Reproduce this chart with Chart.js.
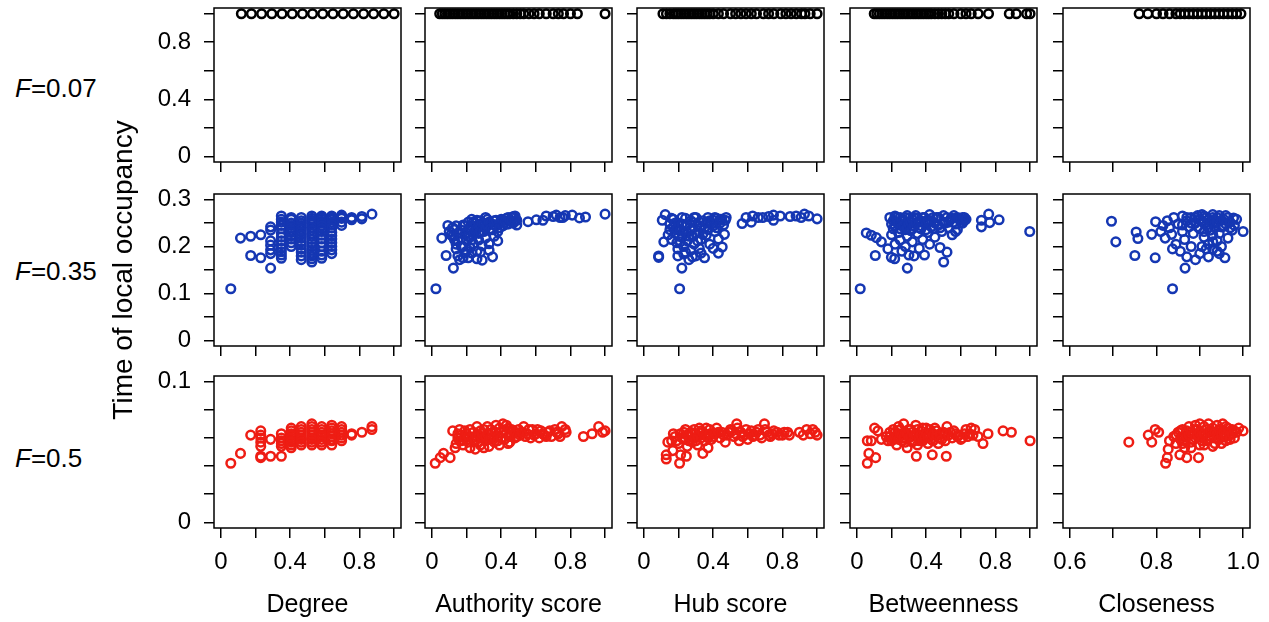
<!DOCTYPE html>
<html>
<head>
<meta charset="utf-8">
<script src="https://cdn.jsdelivr.net/npm/chart.js@4.4.1/dist/chart.umd.min.js"></script>
<style>
  body { margin: 0; background: #fff; width: 1269px; height: 622px; position: relative; overflow: hidden;
         font-family: "Liberation Sans", Arial, sans-serif; }
  canvas { position: absolute; }
  .flabel { position: absolute; left: 15px; font-size: 26px; line-height: 30px; color: #000; white-space: nowrap; }
</style>
</head>
<body>
<div class="flabel" style="top:73px"><i>F</i>=0.07</div>
<div class="flabel" style="top:256px"><i>F</i>=0.35</div>
<div class="flabel" style="top:443px"><i>F</i>=0.5</div>
<script>
// ---- data: [x, time of local occupancy] per panel ----
const f07Degree = [[0.118,1],[0.176,1],[0.235,1],[0.294,1],[0.353,1],[0.412,1],[0.471,1],[0.529,1],
  [0.588,1],[0.647,1],[0.706,1],[0.765,1],[0.824,1],[0.882,1],[0.941,1],[1.0,1]];
const f07Authority = [[0.045,1],[0.06,1],[0.075,1],[0.09,1],[0.105,1],[0.12,1],[0.135,1],[0.15,1],[0.165,1],
  [0.18,1],[0.195,1],[0.21,1],[0.225,1],[0.24,1],[0.255,1],[0.27,1],[0.285,1],[0.3,1],[0.315,1],[0.33,1],
  [0.345,1],[0.36,1],[0.375,1],[0.39,1],[0.405,1],[0.42,1],[0.435,1],[0.45,1],[0.47,1],[0.49,1],[0.51,1],
  [0.53,1],[0.56,1],[0.59,1],[0.62,1],[0.66,1],[0.7,1],[0.73,1],[0.76,1],[0.8,1],[0.84,1],[1.0,1]];
const f07Hub = [[0.11,1],[0.13,1],[0.15,1],[0.17,1],[0.185,1],[0.2,1],[0.215,1],[0.23,1],[0.245,1],[0.26,1],
  [0.275,1],[0.29,1],[0.305,1],[0.32,1],[0.335,1],[0.35,1],[0.365,1],[0.38,1],[0.40,1],[0.43,1],[0.46,1],
  [0.5,1],[0.53,1],[0.56,1],[0.59,1],[0.62,1],[0.65,1],[0.69,1],[0.72,1],[0.75,1],[0.79,1],[0.82,1],
  [0.85,1],[0.88,1],[0.91,1],[0.93,1],[0.96,1],[1.0,1]];
const f07Betweenness = [[0.10,1],[0.115,1],[0.13,1],[0.145,1],[0.16,1],[0.175,1],[0.19,1],[0.205,1],[0.22,1],
  [0.235,1],[0.25,1],[0.265,1],[0.28,1],[0.295,1],[0.31,1],[0.325,1],[0.34,1],[0.355,1],[0.37,1],[0.385,1],
  [0.4,1],[0.415,1],[0.43,1],[0.45,1],[0.47,1],[0.49,1],[0.51,1],[0.53,1],[0.56,1],[0.6,1],[0.63,1],
  [0.66,1],[0.7,1],[0.76,1],[0.88,1],[0.92,1],[0.98,1],[1.0,1]];
const f07Closeness = [[0.76,1],[0.78,1],[0.8,1],[0.815,1],[0.83,1],[0.845,1],[0.855,1],[0.865,1],[0.875,1],
  [0.885,1],[0.895,1],[0.905,1],[0.915,1],[0.925,1],[0.935,1],[0.945,1],[0.955,1],[0.965,1],[0.975,1],
  [0.985,1],[0.995,1]];

const f35Degree = [[0.057,0.110],[0.113,0.218],[0.172,0.222],[0.172,0.181],[0.23,0.225],[0.23,0.176],
  [0.287,0.242],[0.287,0.235],[0.287,0.212],[0.287,0.203],[0.287,0.193],[0.287,0.185],[0.287,0.154],
  [0.349,0.265],[0.349,0.258],[0.349,0.252],[0.349,0.245],[0.349,0.238],[0.349,0.228],[0.349,0.220],[0.349,0.212],
  [0.349,0.204],[0.349,0.196],[0.349,0.189],[0.349,0.182],[0.349,0.175],
  [0.406,0.262],[0.406,0.258],[0.406,0.250],[0.406,0.245],[0.406,0.240],[0.406,0.235],[0.406,0.230],[0.406,0.223],
  [0.406,0.216],[0.406,0.208],[0.406,0.200],
  [0.464,0.262],[0.464,0.255],[0.464,0.250],[0.464,0.245],[0.464,0.241],[0.464,0.237],[0.464,0.231],[0.464,0.225],
  [0.464,0.218],[0.464,0.210],[0.464,0.203],[0.464,0.195],[0.464,0.188],[0.464,0.180],[0.464,0.172],
  [0.525,0.265],[0.525,0.260],[0.525,0.256],[0.525,0.252],[0.525,0.248],[0.525,0.241],[0.525,0.235],[0.525,0.228],
  [0.525,0.222],[0.525,0.215],[0.525,0.208],[0.525,0.200],[0.525,0.192],[0.525,0.186],[0.525,0.180],[0.525,0.174],[0.525,0.167],
  [0.582,0.265],[0.582,0.262],[0.582,0.258],[0.582,0.254],[0.582,0.250],[0.582,0.244],[0.582,0.238],[0.582,0.232],
  [0.582,0.224],[0.582,0.216],[0.582,0.208],[0.582,0.200],[0.582,0.190],[0.582,0.182],[0.582,0.175],
  [0.64,0.265],[0.64,0.261],[0.64,0.257],[0.64,0.252],[0.64,0.247],[0.64,0.240],[0.64,0.230],[0.64,0.223],
  [0.64,0.216],[0.64,0.208],[0.64,0.200],[0.64,0.193],[0.64,0.185],
  [0.697,0.267],[0.697,0.263],[0.697,0.260],[0.697,0.252],[0.697,0.245],[0.755,0.262],[0.755,0.260],[0.755,0.257],
  [0.814,0.264],[0.814,0.259],[0.872,0.269]];
const f35Authority = [[0.023,0.110],[0.057,0.218],[0.082,0.181],[0.124,0.154],[0.092,0.245],
  [0.10,0.232],[0.11,0.225],[0.12,0.240],[0.12,0.222],[0.13,0.215],[0.13,0.236],[0.14,0.205],[0.14,0.195],
  [0.14,0.244],[0.15,0.228],[0.15,0.180],[0.15,0.212],[0.16,0.172],[0.16,0.230],[0.17,0.235],[0.17,0.218],
  [0.17,0.200],[0.18,0.200],[0.18,0.176],[0.18,0.246],[0.19,0.245],[0.19,0.226],[0.19,0.186],[0.20,0.212],
  [0.20,0.190],[0.21,0.252],[0.21,0.236],[0.21,0.222],[0.21,0.176],[0.22,0.220],[0.22,0.198],[0.22,0.240],
  [0.23,0.258],[0.23,0.244],[0.23,0.214],[0.23,0.186],[0.24,0.230],[0.24,0.206],[0.24,0.252],[0.25,0.250],
  [0.25,0.236],[0.26,0.238],[0.26,0.190],[0.26,0.174],[0.26,0.256],[0.27,0.228],[0.27,0.214],[0.27,0.244],
  [0.28,0.255],[0.28,0.244],[0.28,0.232],[0.28,0.188],[0.29,0.202],[0.29,0.171],[0.29,0.250],[0.30,0.250],
  [0.30,0.232],[0.31,0.218],[0.31,0.240],[0.31,0.262],[0.32,0.258],[0.32,0.244],[0.33,0.206],[0.33,0.252],
  [0.33,0.192],[0.34,0.250],[0.34,0.238],[0.35,0.236],[0.35,0.178],[0.36,0.255],[0.36,0.246],[0.36,0.222],
  [0.37,0.244],[0.37,0.256],[0.38,0.212],[0.38,0.232],[0.39,0.250],[0.39,0.240],[0.40,0.258],[0.41,0.244],
  [0.41,0.256],[0.42,0.252],[0.43,0.260],[0.43,0.248],[0.44,0.248],[0.44,0.262],[0.45,0.256],[0.46,0.262],
  [0.46,0.254],[0.47,0.250],[0.47,0.264],[0.48,0.265],[0.48,0.255],[0.49,0.256],[0.49,0.246],
  [0.555,0.253],[0.603,0.257],[0.641,0.256],[0.66,0.265],[0.70,0.264],[0.718,0.267],[0.74,0.262],[0.756,0.262],
  [0.77,0.266],[0.81,0.267],[0.852,0.261],[0.887,0.263],[1.0,0.269]];
const f35Hub = [[0.085,0.180],[0.085,0.177],[0.206,0.110],[0.219,0.154],[0.115,0.210],[0.106,0.256],[0.123,0.268],
  [0.196,0.195],[0.196,0.180],[0.14,0.225],[0.15,0.236],[0.15,0.248],[0.16,0.215],[0.16,0.260],[0.17,0.258],
  [0.17,0.242],[0.18,0.228],[0.18,0.250],[0.19,0.208],[0.19,0.236],[0.20,0.250],[0.20,0.222],[0.21,0.236],
  [0.21,0.210],[0.22,0.262],[0.22,0.220],[0.22,0.248],[0.23,0.200],[0.23,0.184],[0.23,0.232],[0.24,0.244],
  [0.24,0.260],[0.24,0.188],[0.25,0.230],[0.25,0.212],[0.25,0.246],[0.26,0.172],[0.26,0.222],[0.27,0.255],
  [0.27,0.192],[0.27,0.236],[0.28,0.238],[0.28,0.222],[0.28,0.252],[0.28,0.178],[0.29,0.205],[0.29,0.262],
  [0.30,0.262],[0.30,0.180],[0.30,0.228],[0.31,0.246],[0.31,0.212],[0.32,0.230],[0.32,0.196],[0.32,0.252],
  [0.33,0.215],[0.33,0.240],[0.33,0.186],[0.34,0.255],[0.34,0.226],[0.35,0.240],[0.35,0.176],[0.36,0.224],
  [0.36,0.250],[0.37,0.262],[0.37,0.236],[0.38,0.205],[0.38,0.255],[0.39,0.248],[0.40,0.256],[0.40,0.244],
  [0.40,0.196],[0.41,0.232],[0.41,0.262],[0.42,0.260],[0.42,0.240],[0.43,0.216],[0.43,0.186],[0.44,0.250],
  [0.44,0.258],[0.45,0.258],[0.452,0.199],[0.46,0.246],[0.465,0.226],[0.47,0.256],[0.475,0.262],
  [0.567,0.249],[0.59,0.262],[0.62,0.252],[0.628,0.265],[0.66,0.262],[0.686,0.262],[0.72,0.264],[0.748,0.267],
  [0.748,0.256],[0.787,0.265],[0.844,0.264],[0.879,0.265],[0.908,0.262],[0.927,0.269],[0.952,0.265],[1.0,0.259]];
const f35Betweenness = [[0.019,0.110],[0.054,0.229],[0.083,0.224],[0.112,0.219],[0.141,0.210],[0.106,0.181],
  [0.179,0.195],[0.199,0.177],[0.218,0.174],[0.291,0.154],[0.501,0.167],
  [0.19,0.262],[0.20,0.248],[0.20,0.225],[0.21,0.238],[0.21,0.255],[0.22,0.265],[0.22,0.205],[0.22,0.244],
  [0.23,0.252],[0.23,0.262],[0.24,0.230],[0.24,0.250],[0.25,0.262],[0.25,0.214],[0.25,0.238],[0.26,0.244],
  [0.26,0.190],[0.26,0.258],[0.27,0.256],[0.27,0.244],[0.28,0.236],[0.28,0.200],[0.28,0.262],[0.29,0.266],
  [0.29,0.222],[0.29,0.240],[0.30,0.248],[0.30,0.182],[0.30,0.260],[0.31,0.234],[0.31,0.252],[0.32,0.258],
  [0.32,0.210],[0.32,0.238],[0.33,0.244],[0.33,0.180],[0.33,0.262],[0.34,0.266],[0.34,0.250],[0.35,0.228],
  [0.35,0.260],[0.36,0.252],[0.36,0.196],[0.36,0.240],[0.37,0.238],[0.37,0.255],[0.38,0.262],[0.38,0.215],
  [0.39,0.182],[0.39,0.262],[0.40,0.248],[0.40,0.236],[0.41,0.230],[0.41,0.256],[0.42,0.268],[0.42,0.205],
  [0.43,0.255],[0.43,0.242],[0.44,0.238],[0.44,0.262],[0.45,0.220],[0.45,0.250],[0.46,0.262],[0.47,0.245],
  [0.47,0.262],[0.48,0.198],[0.48,0.240],[0.49,0.232],[0.50,0.266],[0.50,0.252],[0.51,0.250],[0.52,0.188],
  [0.52,0.262],[0.53,0.240],[0.53,0.252],[0.54,0.258],[0.55,0.225],[0.55,0.260],[0.56,0.266],[0.57,0.232],
  [0.57,0.248],[0.58,0.236],[0.58,0.262],[0.59,0.260],[0.60,0.252],[0.60,0.258],[0.61,0.262],[0.61,0.250],
  [0.62,0.256],[0.62,0.262],[0.63,0.258],[0.719,0.242],[0.719,0.256],[0.761,0.269],[0.767,0.251],[0.821,0.257],[0.998,0.232]];
const f35Closeness = [[0.696,0.254],[0.706,0.210],[0.750,0.181],[0.753,0.231],[0.757,0.217],[0.789,0.226],
  [0.797,0.176],[0.798,0.253],[0.837,0.110],[0.866,0.154],[0.837,0.195],[0.958,0.176],[1.0,0.232],[0.978,0.261],
  [0.81,0.232],[0.815,0.245],[0.82,0.218],[0.825,0.255],[0.83,0.240],[0.835,0.226],[0.84,0.262],[0.845,0.205],
  [0.85,0.248],[0.855,0.190],[0.86,0.265],[0.86,0.232],[0.86,0.246],[0.865,0.215],[0.87,0.255],[0.87,0.178],
  [0.87,0.262],[0.875,0.242],[0.88,0.262],[0.88,0.200],[0.88,0.250],[0.885,0.228],[0.89,0.250],[0.89,0.172],
  [0.89,0.262],[0.895,0.266],[0.895,0.242],[0.90,0.238],[0.90,0.185],[0.90,0.258],[0.905,0.255],[0.905,0.268],
  [0.905,0.200],[0.91,0.220],[0.91,0.265],[0.91,0.250],[0.91,0.232],[0.915,0.245],[0.915,0.195],[0.915,0.262],
  [0.92,0.258],[0.92,0.178],[0.92,0.240],[0.92,0.205],[0.925,0.235],[0.925,0.252],[0.93,0.268],[0.93,0.210],
  [0.93,0.262],[0.93,0.225],[0.93,0.195],[0.935,0.250],[0.935,0.240],[0.94,0.190],[0.94,0.262],[0.94,0.252],
  [0.94,0.212],[0.945,0.228],[0.945,0.266],[0.945,0.185],[0.95,0.256],[0.95,0.200],[0.95,0.242],[0.955,0.243],
  [0.955,0.258],[0.96,0.266],[0.96,0.248],[0.965,0.218],[0.965,0.262],[0.97,0.252],[0.97,0.240],[0.975,0.235],
  [0.98,0.245],[0.985,0.258]];

const f50Degree = [[0.057,0.042],[0.113,0.049],[0.172,0.062],[0.23,0.065],[0.23,0.062],[0.23,0.060],[0.23,0.057],
  [0.23,0.054],[0.23,0.047],[0.23,0.046],[0.287,0.059],[0.287,0.047],[0.349,0.063],[0.349,0.060],[0.349,0.058],
  [0.349,0.056],[0.349,0.054],[0.349,0.047],
  [0.406,0.067],[0.406,0.065],[0.406,0.063],[0.406,0.062],[0.406,0.060],[0.406,0.058],[0.406,0.057],[0.406,0.055],[0.406,0.053],
  [0.464,0.068],[0.464,0.066],[0.464,0.064],[0.464,0.062],[0.464,0.060],[0.464,0.059],[0.464,0.057],[0.464,0.055],
  [0.525,0.070],[0.525,0.068],[0.525,0.066],[0.525,0.064],[0.525,0.062],[0.525,0.060],[0.525,0.059],[0.525,0.057],[0.525,0.055],
  [0.582,0.068],[0.582,0.066],[0.582,0.064],[0.582,0.062],[0.582,0.061],[0.582,0.059],[0.582,0.057],[0.582,0.055],
  [0.64,0.069],[0.64,0.067],[0.64,0.065],[0.64,0.063],[0.64,0.061],[0.64,0.059],[0.64,0.058],[0.64,0.055],
  [0.697,0.068],[0.697,0.066],[0.697,0.064],[0.697,0.062],[0.697,0.060],[0.697,0.058],[0.755,0.063],[0.755,0.062],
  [0.814,0.064],[0.872,0.068],[0.872,0.066]];
const f50Authority = [[0.019,0.042],[0.048,0.046],[0.067,0.049],[0.105,0.046],[0.12,0.065],[0.134,0.053],
  [0.14,0.056],[0.15,0.060],[0.15,0.063],[0.16,0.058],[0.16,0.066],[0.17,0.062],[0.17,0.058],[0.18,0.055],
  [0.19,0.060],[0.19,0.065],[0.20,0.063],[0.21,0.057],[0.21,0.061],[0.22,0.053],[0.22,0.066],[0.23,0.060],
  [0.24,0.064],[0.24,0.058],[0.25,0.058],[0.25,0.052],[0.26,0.068],[0.26,0.061],[0.27,0.062],[0.27,0.057],
  [0.28,0.055],[0.28,0.065],[0.29,0.060],[0.29,0.063],[0.30,0.066],[0.30,0.053],[0.31,0.058],[0.31,0.061],
  [0.32,0.063],[0.32,0.068],[0.33,0.054],[0.33,0.059],[0.34,0.060],[0.34,0.066],[0.35,0.064],[0.36,0.057],
  [0.36,0.061],[0.37,0.069],[0.37,0.064],[0.38,0.061],[0.38,0.058],[0.39,0.055],[0.39,0.067],[0.40,0.064],
  [0.40,0.060],[0.41,0.070],[0.42,0.059],[0.42,0.065],[0.43,0.063],[0.43,0.069],[0.44,0.067],[0.44,0.056],
  [0.45,0.057],[0.45,0.061],[0.46,0.062],[0.46,0.066],[0.47,0.065],[0.48,0.060],[0.48,0.064],[0.49,0.061],
  [0.50,0.066],[0.51,0.062],[0.52,0.064],[0.53,0.068],[0.54,0.061],[0.55,0.063],[0.56,0.066],[0.57,0.060],
  [0.58,0.066],[0.59,0.062],[0.60,0.063],[0.61,0.066],[0.62,0.060],[0.63,0.065],[0.64,0.063],[0.65,0.062],
  [0.66,0.061],[0.67,0.064],[0.68,0.065],[0.69,0.061],[0.71,0.066],[0.72,0.064],[0.73,0.063],[0.74,0.061],
  [0.75,0.068],[0.77,0.066],[0.775,0.064],[0.875,0.061],[0.925,0.063],[0.963,0.068],[0.986,0.064],[1.0,0.065]];
const f50Hub = [[0.129,0.048],[0.129,0.045],[0.138,0.057],[0.206,0.042],[0.212,0.048],[0.245,0.047],[0.167,0.051],
  [0.34,0.049],[0.16,0.058],[0.17,0.063],[0.18,0.061],[0.19,0.058],[0.20,0.056],[0.21,0.063],[0.22,0.060],
  [0.23,0.059],[0.23,0.064],[0.24,0.066],[0.25,0.054],[0.25,0.062],[0.26,0.061],[0.26,0.058],[0.27,0.064],
  [0.28,0.057],[0.28,0.063],[0.29,0.060],[0.29,0.066],[0.30,0.063],[0.30,0.058],[0.31,0.055],[0.31,0.061],
  [0.32,0.067],[0.33,0.060],[0.33,0.065],[0.34,0.064],[0.35,0.058],[0.35,0.062],[0.36,0.062],[0.36,0.067],
  [0.37,0.053],[0.37,0.060],[0.38,0.066],[0.38,0.063],[0.39,0.059],[0.40,0.061],[0.41,0.063],[0.42,0.067],
  [0.43,0.064],[0.44,0.060],[0.45,0.064],[0.46,0.062],[0.47,0.057],[0.48,0.062],[0.49,0.064],[0.50,0.066],
  [0.51,0.065],[0.52,0.061],[0.53,0.063],[0.536,0.070],[0.54,0.067],[0.55,0.058],[0.56,0.064],[0.57,0.061],
  [0.58,0.062],[0.59,0.066],[0.60,0.059],[0.61,0.063],[0.62,0.065],[0.63,0.061],[0.64,0.062],[0.65,0.064],
  [0.66,0.066],[0.67,0.062],[0.68,0.060],[0.696,0.070],[0.70,0.066],[0.71,0.064],[0.72,0.062],[0.73,0.061],
  [0.74,0.063],[0.75,0.065],[0.77,0.064],[0.78,0.062],[0.80,0.062],[0.81,0.064],[0.83,0.064],[0.84,0.062],
  [0.898,0.064],[0.92,0.062],[0.94,0.066],[0.96,0.063],[0.975,0.066],[0.99,0.064],[1.0,0.062]];
const f50Betweenness = [[0.06,0.042],[0.069,0.049],[0.108,0.046],[0.06,0.058],[0.083,0.058],[0.102,0.067],
  [0.121,0.065],[0.141,0.059],[0.343,0.047],[0.435,0.048],[0.516,0.047],[0.728,0.056],[0.757,0.063],
  [0.844,0.065],[0.892,0.064],[1.0,0.058],[0.17,0.061],[0.18,0.058],[0.19,0.064],[0.19,0.061],[0.20,0.058],
  [0.21,0.066],[0.21,0.059],[0.22,0.061],[0.22,0.064],[0.23,0.055],[0.23,0.062],[0.24,0.068],[0.24,0.059],
  [0.25,0.063],[0.25,0.066],[0.26,0.058],[0.26,0.062],[0.27,0.070],[0.27,0.060],[0.28,0.064],[0.28,0.057],
  [0.29,0.053],[0.29,0.063],[0.30,0.060],[0.30,0.066],[0.31,0.066],[0.31,0.061],[0.32,0.057],[0.32,0.064],
  [0.33,0.062],[0.33,0.058],[0.34,0.069],[0.34,0.062],[0.35,0.055],[0.35,0.066],[0.36,0.060],[0.36,0.058],
  [0.37,0.065],[0.37,0.062],[0.38,0.058],[0.38,0.067],[0.39,0.063],[0.39,0.060],[0.40,0.067],[0.40,0.063],
  [0.41,0.056],[0.41,0.061],[0.42,0.061],[0.42,0.066],[0.43,0.064],[0.43,0.059],[0.44,0.058],[0.44,0.062],
  [0.45,0.067],[0.46,0.062],[0.46,0.065],[0.47,0.056],[0.48,0.060],[0.48,0.063],[0.49,0.059],[0.50,0.064],
  [0.51,0.058],[0.51,0.062],[0.52,0.068],[0.53,0.062],[0.54,0.064],[0.55,0.060],[0.56,0.065],[0.57,0.063],
  [0.58,0.061],[0.59,0.062],[0.60,0.059],[0.61,0.060],[0.62,0.063],[0.63,0.066],[0.64,0.061],[0.65,0.063],
  [0.66,0.067],[0.67,0.062],[0.68,0.066],[0.70,0.061]];
const f50Closeness = [[0.736,0.057],[0.781,0.062],[0.789,0.057],[0.797,0.066],[0.805,0.064],[0.827,0.052],
  [0.825,0.046],[0.821,0.042],[0.854,0.048],[0.87,0.046],[0.897,0.046],[0.9,0.070],[0.953,0.070],[1.0,0.065],
  [0.83,0.058],[0.84,0.061],[0.845,0.056],[0.845,0.062],[0.85,0.064],[0.855,0.059],[0.855,0.065],[0.86,0.066],
  [0.86,0.061],[0.86,0.056],[0.865,0.053],[0.865,0.058],[0.87,0.061],[0.87,0.065],[0.875,0.068],[0.875,0.062],
  [0.88,0.057],[0.88,0.064],[0.88,0.053],[0.885,0.063],[0.885,0.059],[0.89,0.060],[0.89,0.066],[0.89,0.069],
  [0.895,0.066],[0.895,0.062],[0.90,0.055],[0.90,0.064],[0.905,0.062],[0.905,0.058],[0.91,0.068],[0.91,0.063],
  [0.91,0.055],[0.915,0.058],[0.915,0.066],[0.92,0.064],[0.92,0.059],[0.92,0.070],[0.925,0.061],[0.925,0.065],
  [0.93,0.067],[0.93,0.062],[0.93,0.054],[0.935,0.056],[0.935,0.064],[0.94,0.063],[0.94,0.060],[0.94,0.069],
  [0.945,0.059],[0.945,0.066],[0.95,0.066],[0.95,0.062],[0.95,0.056],[0.955,0.061],[0.955,0.064],[0.96,0.058],
  [0.96,0.061],[0.96,0.068],[0.965,0.064],[0.965,0.067],[0.97,0.062],[0.97,0.059],[0.975,0.066],[0.975,0.063],
  [0.98,0.060],[0.98,0.065],[0.985,0.064],[0.99,0.067]];

// ---- axis ticks and labels ----
const xTitles = ['Degree', 'Authority score', 'Hub score', 'Betweenness', 'Closeness'];
const xTicksUnit = [0, 0.2, 0.4, 0.6, 0.8, 1.0];
const xLabelsUnit = ['0', '0.4', '0.8'];
const xTicksCloseness = [0.6, 0.7, 0.8, 0.9, 1.0];
const xLabelsCloseness = ['0.6', '0.8', '1.0'];
const yTicksF07 = [0, 0.2, 0.4, 0.6, 0.8, 1.0];
const yLabelsF07 = ['0', '0.4', '0.8'];
const yTicksF35 = [0, 0.05, 0.1, 0.15, 0.2, 0.25, 0.3];
const yLabelsF35 = ['0', '0.1', '0.2', '0.3'];
const yTicksF50 = [0, 0.02, 0.04, 0.06, 0.08, 0.1];
const yLabelsF50 = ['0', '0.1'];

// ---- layout ----
const panelLefts = [214, 425, 637, 850, 1063];
const panelWidth = 187;
const rowTops = [8, 194, 376];
const rowHeights = [154, 152, 152];
const pad = { left: 24, top: 30, right: 30 };

const rows = [
  { data: [f07Degree, f07Authority, f07Hub, f07Betweenness, f07Closeness], color: '#000000',
    min: -0.04, max: 1.04, ticks: yTicksF07, labels: yLabelsF07 },
  { data: [f35Degree, f35Authority, f35Hub, f35Betweenness, f35Closeness], color: '#1537b3',
    min: -0.012, max: 0.312, ticks: yTicksF35, labels: yLabelsF35 },
  { data: [f50Degree, f50Authority, f50Hub, f50Betweenness, f50Closeness], color: '#ee1d14',
    min: -0.004, max: 0.104, ticks: yTicksF50, labels: yLabelsF50 }
];
const cols = xTitles.map((t, i) => i < 4
  ? { title: t, min: -0.04, max: 1.04, ticks: xTicksUnit, labels: xLabelsUnit }
  : { title: t, min: 0.584, max: 1.016, ticks: xTicksCloseness, labels: xLabelsCloseness });

const boxPlugin = {
  id: 'box',
  afterDraw(chart) {
    const a = chart.chartArea, ctx = chart.ctx;
    ctx.save();
    ctx.strokeStyle = '#000';
    ctx.lineWidth = 1.5;
    ctx.strokeRect(a.left, a.top, a.right - a.left, a.bottom - a.top);
    ctx.restore();
  }
};

function pickLabel(labels) {
  return (v) => {
    const hit = labels.find(l => Math.abs(parseFloat(l) - v) < 1e-9);
    return hit === undefined ? '' : hit;
  };
}

const font = '"Liberation Sans", Arial, sans-serif';

rows.forEach((row, r) => {
  cols.forEach((col, c) => {
    const hasYTitle = c === 0 && r === 1;
    const extra = hasYTitle ? 90 : 0;          // room for the long rotated y title
    const leftW = c === 0 ? 114 : 12;
    const bottomH = r === 2 ? 94 : 14;
    const topPad = pad.top + extra;
    const bottomPad = (r === 2 ? 0 : 20) + extra;
    const cv = document.createElement('canvas');
    const w = pad.left + leftW + panelWidth + pad.right;
    const h = topPad + rowHeights[r] + bottomH + bottomPad;
    cv.width = w; cv.height = h;
    cv.style.left = (panelLefts[c] - leftW - pad.left) + 'px';
    cv.style.top = (rowTops[r] - topPad) + 'px';
    cv.style.width = w + 'px'; cv.style.height = h + 'px';
    document.body.appendChild(cv);

    const gridOpts = { display: true, drawOnChartArea: false, drawTicks: true, tickLength: 10,
                       color: '#000', tickColor: '#000', lineWidth: 1.5, tickWidth: 1.5 };
    new Chart(cv.getContext('2d'), {
      type: 'scatter',
      data: { datasets: [{
        data: row.data[c].map(p => ({ x: p[0], y: p[1] })),
        borderColor: row.color,
        backgroundColor: 'rgba(0,0,0,0)',
        pointRadius: 4.3,
        pointBorderWidth: 2.5,
        pointHoverRadius: 4.3
      }] },
      options: {
        responsive: false,
        animation: false,
        events: [],
        layout: { padding: { left: pad.left, top: topPad, right: pad.right, bottom: bottomPad } },
        plugins: { legend: { display: false }, tooltip: { enabled: false } },
        scales: {
          x: {
            type: 'linear', min: col.min, max: col.max,
            afterBuildTicks: s => { s.ticks = col.ticks.map(v => ({ value: v })); },
            afterFit: s => { s.height = bottomH; },
            grid: gridOpts,
            border: { display: false },
            ticks: { display: r === 2, autoSkip: false, maxRotation: 0, padding: 10, color: '#000',
                     font: { family: font, size: 24 }, callback: pickLabel(col.labels) },
            title: { display: r === 2, text: col.title, color: '#000', padding: { top: 0, bottom: 2 },
                     font: { family: font, size: 25 } }
          },
          y: {
            type: 'linear', min: row.min, max: row.max,
            afterBuildTicks: s => { s.ticks = row.ticks.map(v => ({ value: v })); },
            afterFit: s => { s.width = leftW; },
            grid: gridOpts,
            border: { display: false },
            ticks: { display: c === 0, autoSkip: false, padding: 13, color: '#000',
                     font: { family: font, size: 24 }, callback: pickLabel(row.labels) },
            title: { display: hasYTitle, text: 'Time of local occupancy', color: '#000',
                     padding: { top: 7, bottom: 0 }, font: { family: font, size: 28 } }
          }
        }
      },
      plugins: [boxPlugin]
    });
  });
});
</script>
</body>
</html>
